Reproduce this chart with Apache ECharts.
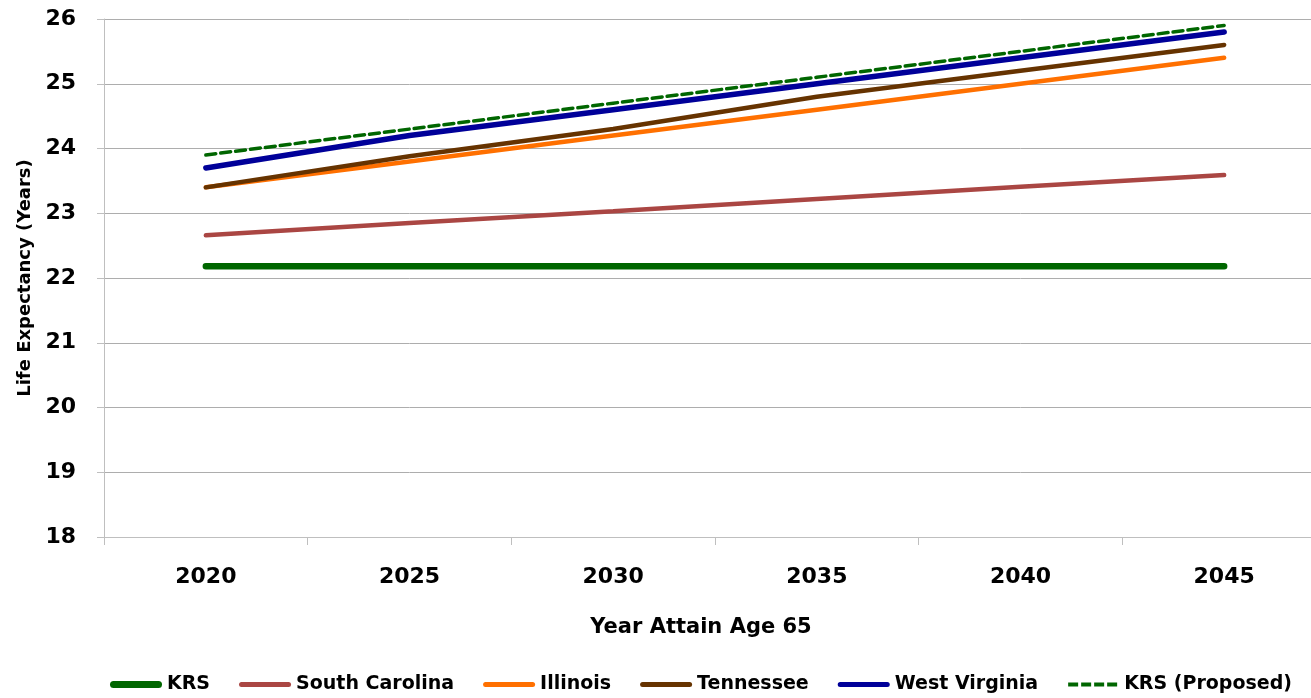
<!DOCTYPE html>
<html>
<head>
<meta charset="utf-8">
<script src="https://cdn.jsdelivr.net/npm/echarts@6/dist/echarts.min.js"></script>
<style>
  html, body { margin: 0; padding: 0; background: #fff; overflow: hidden; }
  #chart { width: 1326px; height: 698px; }
</style>
</head>
<body>
<div id="chart"></div>
<script>
var years = ["2020", "2025", "2030", "2035", "2040", "2045"];
var krs = [22.18, 22.18, 22.18, 22.18, 22.18, 22.18];
var southCarolina = [22.66, 22.85, 23.03, 23.22, 23.41, 23.59];
var illinois = [23.4, 23.8, 24.2, 24.6, 25.0, 25.4];
var tennessee = [23.4, 23.88, 24.3, 24.8, 25.2, 25.6];
var westVirginia = [23.7, 24.2, 24.6, 25.0, 25.4, 25.8];
var krsProposed = [23.9, 24.3, 24.7, 25.1, 25.5, 25.9];

// chart is 15px wider than the window so the plot runs off the right edge like the original
var chart = echarts.init(document.getElementById("chart"));
var font = "'DejaVu Sans', sans-serif";
// legend icons: 52x7 box, rounded bars (corner points keep the box the same size)
var thickIcon = "path://M0,0L0,0 M3.5,0H48.5A3.5,3.5,0,0,1,48.5,7H3.5A3.5,3.5,0,0,1,3.5,0Z M52,7L52,7";
var thinIcon = "path://M0,0L0,0 M2.5,1H49.5A2.5,2.5,0,0,1,49.5,6H2.5A2.5,2.5,0,0,1,2.5,1Z M52,7L52,7";
var dashIcon = "path://M0,0L0,0 M1,1.5h10v4h-10z M14,1.5h10v4h-10z M27,1.5h10v4h-10z M40,1.5h10v4h-10z M52,7L52,7";

function lineSeries(name, data, color, width, type) {
  return {
    name: name,
    type: "line",
    data: data,
    symbol: "none",
    lineStyle: { color: color, width: width, type: type || "solid", cap: "round" },
    itemStyle: { color: color }
  };
}

var option = {
  backgroundColor: "#fff",
  animation: false,
  grid: { left: 104, top: 19, right: 0, bottom: 161 },
  legend: {
    bottom: 4,
    left: 110,
    padding: 0,
    width: 1210,
    itemWidth: 52,
    itemHeight: 7,
    itemGap: 29,
    textStyle: { fontFamily: font, fontWeight: "bold", fontSize: 19, color: "#000" },
    data: [
      { name: "KRS", icon: thickIcon },
      { name: "South Carolina", icon: thinIcon },
      { name: "Illinois", icon: thinIcon },
      { name: "Tennessee", icon: thinIcon },
      { name: "West Virginia", icon: thinIcon },
      { name: "KRS (Proposed)", icon: dashIcon }
    ]
  },
  xAxis: {
    type: "category",
    data: years,
    name: "Year Attain Age 65",
    nameLocation: "middle",
    nameGap: 80,
    nameTextStyle: { fontFamily: font, fontWeight: "bold", fontSize: 21, color: "#000", padding: [0, 28, 0, 0] },
    axisLine: { lineStyle: { color: "#BFBFBF", width: 1 } },
    axisTick: { show: true, length: 8, lineStyle: { color: "#BFBFBF" } },
    axisLabel: { fontFamily: font, fontWeight: "bold", fontSize: 22, color: "#000", margin: 29 }
  },
  yAxis: {
    type: "value",
    min: 18,
    max: 26,
    interval: 1,
    name: "Life Expectancy (Years)",
    nameLocation: "middle",
    nameGap: 60,
    nameTextStyle: { fontFamily: font, fontWeight: "bold", fontSize: 18, color: "#000" },
    axisLine: { show: true, lineStyle: { color: "#BFBFBF", width: 1 } },
    axisTick: { show: true, length: 7, lineStyle: { color: "#BFBFBF" } },
    axisLabel: { fontFamily: font, fontWeight: "bold", fontSize: 22, color: "#000", margin: 28 },
    splitLine: { show: true, lineStyle: { color: "#ADADAD", width: 1 } }
  },
  series: [
    lineSeries("KRS", krs, "#006600", 6.5),
    lineSeries("South Carolina", southCarolina, "#AA4643", 4.5),
    lineSeries("Illinois", illinois, "#FF7000", 4.5),
    lineSeries("Tennessee", tennessee, "#663300", 4.5),
    lineSeries("West Virginia", westVirginia, "#000099", 5.5),
    lineSeries("KRS (Proposed)", krsProposed, "#006600", 3.5, [10, 5])
  ]
};
chart.setOption(option);
</script>
</body>
</html>
